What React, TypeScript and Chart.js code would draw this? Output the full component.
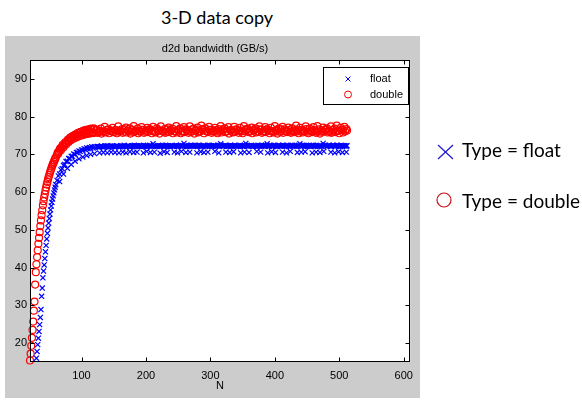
import React, { useEffect, useRef } from "react";
import { Chart, registerables } from "chart.js";

Chart.register(...registerables);

// ---- data ----
const xTicks = [100, 200, 300, 400, 500, 600];
const yTicks = [20, 30, 40, 50, 60, 70, 80, 90];

// double: N = 20..60 (step 1), 62..120 (step 2), 63..119 (step 2), 124..511 (step 3), 125..512 (step 3)
const doubleRise = [
  15.4, 17.2, 19.3, 21.4, 23.5, 25.7, 28.6, 31.0, 35.5, 38.8,
  40.9, 42.8, 44.6, 46.3, 47.9, 49.4, 51.0, 52.5, 53.9, 55.2,
  56.5, 57.6, 58.6, 59.5, 60.4, 61.2, 62.0, 62.7, 63.4, 64.0,
  64.6, 65.2, 65.7, 66.2, 66.7, 67.2, 67.6, 68.0, 68.4, 68.8, 69.2,
];
const doubleKnee = [
  69.9, 70.2, 71.2, 71.1, 72.2, 71.9, 73.0, 72.6, 73.6, 73.3,
  74.3, 73.8, 74.8, 74.2, 75.2, 74.5, 75.6, 74.8, 75.9, 75.0,
  76.1, 75.2, 76.3, 75.4, 76.5, 75.5, 76.6, 75.6, 76.7, 75.7,
];
const doubleKnee2 = [
  70.5, 70.8, 71.6, 71.7, 72.5, 72.4, 73.2, 73.1, 73.9, 73.6,
  74.5, 74.1, 74.9, 74.6, 75.3, 74.9, 75.7, 75.2, 76.0, 75.4,
  76.3, 75.5, 76.5, 75.6, 76.6, 75.8, 76.8, 75.9, 76.9,
];
const doublePlateau = [
  76.5, 75.9, 76.8, 76.1, 77.3, 76.0, 76.6, 76.2, 77.0, 75.9,
  76.4, 77.4, 76.1, 76.7, 76.0, 77.1, 76.3, 76.9, 76.0, 77.5,
  76.2, 76.8, 76.1, 77.2, 76.4, 76.0, 77.0, 76.5, 76.2, 77.3,
  76.0, 76.9, 76.3, 77.4, 76.1, 76.7, 76.0, 77.1, 76.4, 76.8,
  76.1, 77.5, 76.3, 76.9, 76.0, 77.2, 76.6, 76.2, 77.4, 76.0,
  76.8, 76.3, 77.1, 76.0, 77.6, 76.4, 76.9, 76.1, 77.3, 76.5,
  76.2, 77.0, 76.0, 76.7, 77.5, 76.3, 76.9, 76.1, 77.2, 76.4,
  76.0, 77.3, 76.6, 76.2, 77.0, 76.1, 77.5, 76.4, 76.8, 76.0,
  77.1, 76.3, 76.9, 76.1, 77.4, 76.5, 76.0, 77.2, 76.7, 76.2,
  77.0, 76.1, 77.5, 76.4, 76.8, 76.0, 77.3, 76.6, 76.2, 77.1,
  76.0, 76.9, 76.3, 77.6, 76.1, 77.0, 76.5, 76.2, 77.4, 76.0,
  76.8, 76.3, 77.2, 76.1, 77.5, 76.6, 76.0, 77.1, 76.4, 76.9,
  76.2, 77.4, 76.0, 76.8, 77.6, 76.3, 77.0, 76.5, 77.3, 76.7,
];
const doublePlateau2 = [
  75.7, 76.2, 75.5, 76.0, 75.8, 76.5, 75.6, 76.1, 75.9, 76.4,
  75.6, 76.0, 76.3, 75.7, 76.6, 75.8, 76.1, 75.5, 76.4, 75.9,
  76.2, 75.6, 76.0, 76.5, 75.7, 76.3, 75.9, 76.7, 75.6, 76.1,
  75.8, 76.4, 75.5, 76.2, 76.0, 75.7, 76.6, 75.9, 76.3, 75.6,
  76.1, 75.8, 76.5, 75.6, 76.2, 75.9, 76.4, 75.7, 76.0, 76.6,
  75.5, 76.3, 75.8, 76.1, 76.7, 75.6, 76.2, 75.9, 76.5, 75.7,
  76.0, 76.4, 75.6, 76.2, 75.8, 76.6, 75.9, 76.1, 75.5, 76.3,
  75.8, 76.0, 76.5, 75.7, 76.3, 75.6, 76.1, 76.7, 75.9, 76.2,
  75.6, 76.4, 75.8, 76.0, 76.6, 75.7, 76.2, 75.9, 76.5, 75.6,
  76.1, 75.8, 76.3, 75.5, 76.0, 76.6, 75.7, 76.2, 75.9, 76.4,
  75.7, 76.1, 75.9, 76.5, 75.6, 76.3, 75.8, 76.0, 76.7, 75.6,
  76.2, 75.9, 76.4, 75.7, 76.1, 75.5, 76.3, 76.0, 76.6, 75.8,
  76.0, 75.7, 76.5, 75.9, 76.2, 75.6, 76.4, 75.8, 76.1, 76.3,
];

// float: N = 30..60 (step 1), 62..120 (step 2), 124..511 (step 3), 125..512 (step 3)
const floatRise = [
  16.0, 17.8, 19.6, 21.3, 23.1, 24.9, 26.8, 28.9, 32.4, 34.6,
  37.3, 39.1, 40.7, 42.4, 44.2, 45.9, 47.6, 49.1, 50.5, 51.8,
  53.0, 54.2, 55.3, 56.3, 57.3, 58.2, 59.0, 59.8, 60.6, 61.3, 62.0,
];
const floatKnee = [
  63.1, 64.3, 64.8, 65.9, 66.2, 67.1, 67.3, 68.1, 68.2, 68.9,
  68.9, 69.5, 69.5, 70.1, 70.0, 70.5, 70.5, 70.9, 70.8, 71.2,
  71.1, 71.5, 71.3, 71.7, 71.5, 71.8, 71.6, 72.0, 71.7, 72.0,
];
const floatPlateau = [
  72.0, 71.9, 72.1, 72.0, 72.2, 72.1, 71.9, 72.2, 72.1, 72.0,
  72.3, 72.1, 72.0, 72.2, 72.4, 72.1, 72.2, 72.0, 72.3, 72.2,
  72.1, 72.3, 72.2, 72.0, 72.4, 72.2, 72.1, 72.3, 72.2, 72.8,
  72.2, 72.1, 72.3, 72.2, 72.4, 72.1, 72.3, 72.2, 72.0, 72.3,
  72.2, 72.4, 72.1, 72.3, 72.2, 72.9, 72.3, 72.1, 72.2, 72.4,
  72.3, 72.2, 72.1, 72.4, 72.2, 72.3, 72.1, 72.2, 72.4, 72.3,
  72.1, 72.3, 72.2, 72.4, 72.8, 72.2, 72.3, 72.1, 72.2, 72.4,
  72.2, 72.3, 72.1, 72.2, 72.4, 72.3, 72.1, 72.9, 72.2, 72.3,
  72.4, 72.2, 72.3, 72.1, 72.2, 72.4, 72.3, 72.2, 72.8, 72.1,
  72.3, 72.2, 72.4, 72.1, 72.3, 72.2, 72.4, 72.3, 72.1, 72.2,
  72.3, 72.4, 72.2, 72.1, 72.3, 72.8, 72.2, 72.4, 72.3, 72.1,
  72.2, 72.3, 72.4, 72.2, 72.1, 72.3, 72.2, 72.9, 72.3, 72.2,
  72.4, 72.1, 72.3, 72.2, 72.4, 72.3, 72.1, 72.2, 72.3, 72.2,
];
const floatPlateau2 = [
  72.1, 72.0, 72.2, 71.9, 72.1, 72.3, 72.0, 72.1, 72.2, 72.0,
  72.2, 72.0, 72.3, 72.1, 72.2, 72.0, 72.3, 72.1, 72.2, 72.4,
  72.2, 72.1, 72.3, 72.2, 72.1, 72.3, 72.2, 72.4, 72.1, 72.2,
  72.3, 72.2, 72.1, 72.3, 72.2, 72.4, 72.2, 72.1, 72.3, 72.2,
  72.3, 72.1, 72.2, 72.4, 72.3, 72.2, 72.1, 72.3, 72.4, 72.2,
  72.2, 72.3, 72.4, 72.2, 72.1, 72.3, 72.2, 72.4, 72.3, 72.1,
  72.3, 72.2, 72.4, 72.1, 72.3, 72.2, 72.4, 72.3, 72.2, 72.1,
  72.3, 72.4, 72.2, 72.3, 72.1, 72.2, 72.4, 72.3, 72.2, 72.3,
  72.1, 72.3, 72.2, 72.4, 72.3, 72.1, 72.2, 72.4, 72.3, 72.2,
  72.2, 72.4, 72.3, 72.1, 72.2, 72.3, 72.4, 72.2, 72.3, 72.1,
  72.4, 72.2, 72.3, 72.2, 72.4, 72.1, 72.3, 72.2, 72.4, 72.3,
  72.1, 72.3, 72.2, 72.4, 72.3, 72.2, 72.1, 72.3, 72.4, 72.2,
  72.3, 72.2, 72.4, 72.1, 72.3, 72.2, 72.4, 72.3, 72.2, 72.3,
];
// float: lower scattered row
const floatLowN = [
  66, 72, 78, 84, 90, 96, 102, 108, 114, 120, 128, 134, 140, 146, 152, 158,
  164, 169, 175, 181, 186, 196, 201, 207, 213, 222, 228, 233, 244, 249, 255,
  262, 268, 279, 285, 290, 296, 307, 313, 324, 330, 336, 347, 353, 360, 372,
  378, 389, 395, 401, 412, 418, 424, 435, 441, 447, 458, 464, 470, 476, 487,
  493, 499, 505, 511,
];
const floatLowV = [
  62.8, 64.8, 66.3, 67.3, 68.2, 68.8, 69.3, 69.7, 70.0, 70.2, 70.4, 70.5, 70.4, 70.6, 70.5, 70.4,
  70.6, 70.4, 70.7, 70.5, 70.6, 70.4, 70.8, 70.5, 70.6, 70.3, 70.7, 70.5, 70.6, 70.4, 70.8,
  70.5, 70.6, 70.4, 70.7, 70.5, 70.6, 70.8, 70.4, 70.6, 70.5, 70.7, 70.4, 70.6, 70.5, 70.8,
  70.6, 70.4, 70.7, 70.5, 70.6, 70.4, 70.8, 70.5, 70.6, 70.7, 70.4, 70.6, 70.5, 70.8, 70.6,
  70.4, 70.7, 70.5, 70.6,
];

function seq(start: number, step: number, count: number): number[] {
  const out: number[] = [];
  for (let i = 0; i < count; i++) out.push(start + i * step);
  return out;
}
function pts(ns: number[], vs: number[]) {
  return vs.map((v, i) => ({ x: ns[i], y: v }));
}

const doublePoints = [
  ...pts(seq(20, 1, doubleRise.length), doubleRise),
  ...pts(seq(62, 2, doubleKnee.length), doubleKnee),
  ...pts(seq(63, 2, doubleKnee2.length), doubleKnee2),
  ...pts(seq(124, 3, doublePlateau.length), doublePlateau),
  ...pts(seq(125, 3, doublePlateau2.length), doublePlateau2),
];
const floatPoints = [
  ...pts(seq(30, 1, floatRise.length), floatRise),
  ...pts(seq(62, 2, floatKnee.length), floatKnee),
  ...pts(seq(124, 3, floatPlateau.length), floatPlateau),
  ...pts(seq(125, 3, floatPlateau2.length), floatPlateau2),
  ...pts(floatLowN, floatLowV),
];

const AX_FONT = "'Liberation Sans', Arial, sans-serif";

const boxPlugin = {
  id: "matlabBox",
  beforeDraw(chart: any) {
    const { ctx, chartArea: a } = chart;
    ctx.save();
    ctx.fillStyle = "#ffffff";
    ctx.fillRect(a.left, a.top, a.right - a.left, a.bottom - a.top);
    ctx.restore();
  },
  afterDraw(chart: any) {
    const { ctx, chartArea: a, scales } = chart;
    ctx.save();
    ctx.strokeStyle = "#000000";
    ctx.lineWidth = 1;
    const L = Math.round(a.left) + 0.5;
    const R = Math.round(a.right) - 0.5;
    const T = Math.round(a.top) + 0.5;
    const B = Math.round(a.bottom) - 0.5;
    ctx.strokeRect(L, T, R - L, B - T);
    const tl = 4;
    ctx.beginPath();
    xTicks.forEach((v) => {
      const x = Math.round(scales.x.getPixelForValue(v)) + 0.5;
      ctx.moveTo(x, B); ctx.lineTo(x, B - tl);
      ctx.moveTo(x, T); ctx.lineTo(x, T + tl);
    });
    yTicks.forEach((v) => {
      const y = Math.round(scales.y.getPixelForValue(v)) + 0.5;
      ctx.moveTo(L, y); ctx.lineTo(L + tl, y);
      ctx.moveTo(R, y); ctx.lineTo(R - tl, y);
    });
    ctx.stroke();

    // legend box
    const bx = 318.5, by = 31.5, bw = 85, bh = 37;
    ctx.fillStyle = "#ffffff";
    ctx.fillRect(bx, by, bw, bh);
    ctx.strokeRect(bx, by, bw, bh);
    const mx = 343, y1 = 43, y2 = 58.5;
    ctx.strokeStyle = "#0000ff";
    ctx.beginPath();
    ctx.moveTo(mx - 2.5, y1 - 2.5); ctx.lineTo(mx + 2.5, y1 + 2.5);
    ctx.moveTo(mx + 2.5, y1 - 2.5); ctx.lineTo(mx - 2.5, y1 + 2.5);
    ctx.stroke();
    ctx.strokeStyle = "#ff0000";
    ctx.beginPath();
    ctx.arc(mx, y2, 3.5, 0, Math.PI * 2);
    ctx.stroke();
    ctx.fillStyle = "#000000";
    ctx.font = `11px ${AX_FONT}`;
    ctx.textBaseline = "middle";
    ctx.textAlign = "left";
    ctx.fillText("float", 365, y1);
    ctx.fillText("double", 365, y2);
    ctx.restore();
  },
};

function ChartPanel() {
  const ref = useRef<HTMLCanvasElement | null>(null);
  useEffect(() => {
    if (!ref.current) return;
    const chart = new Chart(ref.current, {
      type: "scatter",
      data: {
        datasets: [
          {
            label: "float",
            data: floatPoints,
            pointStyle: "crossRot",
            pointRadius: 3.6,
            borderColor: "#0000ff",
            backgroundColor: "#0000ff",
            borderWidth: 1.2,
            showLine: false,
            clip: false,
          } as any,
          {
            label: "double",
            data: doublePoints,
            pointStyle: "circle",
            pointRadius: 3.5,
            borderColor: "#ff0000",
            backgroundColor: "rgba(0,0,0,0)",
            borderWidth: 1.2,
            showLine: false,
            clip: false,
          } as any,
        ],
      },
      options: {
        responsive: false,
        maintainAspectRatio: false,
        animation: false,
        devicePixelRatio: 1,
        layout: { padding: { top: 24, right: 8, left: 0, bottom: 0 } },
        plugins: {
          legend: { display: false },
          tooltip: { enabled: false },
          title: { display: false },
        },
        scales: {
          x: {
            type: "linear",
            min: 20,
            max: 610,
            afterBuildTicks: (s: any) => {
              s.ticks = xTicks.map((v) => ({ value: v }));
            },
            afterFit: (s: any) => {
              s.height = 36;
            },
            grid: { display: false, drawTicks: false },
            border: { display: false },
            ticks: {
              color: "#000000",
              font: { family: AX_FONT, size: 11 },
              padding: 7,
              maxRotation: 0,
              autoSkip: false,
            },
            title: {
              display: true,
              text: "N",
              color: "#000000",
              font: { family: AX_FONT, size: 11 },
              padding: { top: 0, bottom: 5 },
            },
          },
          y: {
            type: "linear",
            min: 15,
            max: 95,
            afterBuildTicks: (s: any) => {
              s.ticks = yTicks.map((v) => ({ value: v }));
            },
            afterFit: (s: any) => {
              s.width = 25;
            },
            grid: { display: false, drawTicks: false },
            border: { display: false },
            ticks: {
              color: "#000000",
              font: { family: AX_FONT, size: 11 },
              padding: 3,
              autoSkip: false,
            },
          },
        },
      } as any,
      plugins: [boxPlugin],
    });
    return () => chart.destroy();
  }, []);
  return <canvas ref={ref} width={415} height={362} style={{ display: "block" }} />;
}

export default function App() {
  return (
    <div style={{ position: "absolute", left: 0, top: 0, width: 582, height: 405, background: "#ffffff", overflow: "hidden" }}>
      <div
        style={{
          position: "absolute", left: 117, width: 200, top: 17, transform: "translateY(-50%)",
          textAlign: "center", fontFamily: "Lato, 'Open Sans', sans-serif", fontSize: 18, lineHeight: 1, color: "#000",
        }}
      >
        3-D data copy
      </div>
      <div style={{ position: "absolute", left: 5, top: 36, width: 415, height: 362, background: "#cccccc" }}>
        <ChartPanel />
        <div
          style={{
            position: "absolute", left: 0, width: 420, top: 12, transform: "translateY(-50%)",
            textAlign: "center", fontFamily: AX_FONT, fontSize: 11, lineHeight: 1, color: "#000",
          }}
        >
          d2d bandwidth (GB/s)
        </div>
      </div>
      <svg style={{ position: "absolute", left: 0, top: 0 }} width={582} height={405}>
        <line x1={438} y1={145} x2={453} y2={159} stroke="#1a1ad0" strokeWidth={1.2} />
        <line x1={453} y1={145} x2={438} y2={159} stroke="#1a1ad0" strokeWidth={1.2} />
        <circle cx={444} cy={200} r={7} fill="none" stroke="#cc1010" strokeWidth={1.2} />
      </svg>
      <div
        style={{
          position: "absolute", left: 462, top: 149, transform: "translateY(-50%)", whiteSpace: "nowrap",
          fontFamily: "Lato, 'Open Sans', sans-serif", fontSize: 19, lineHeight: 1, color: "#000",
        }}
      >
        Type = float
      </div>
      <div
        style={{
          position: "absolute", left: 462, top: 200, transform: "translateY(-50%)", whiteSpace: "nowrap",
          fontFamily: "Lato, 'Open Sans', sans-serif", fontSize: 19, lineHeight: 1, color: "#000",
        }}
      >
        Type = double
      </div>
    </div>
  );
}
